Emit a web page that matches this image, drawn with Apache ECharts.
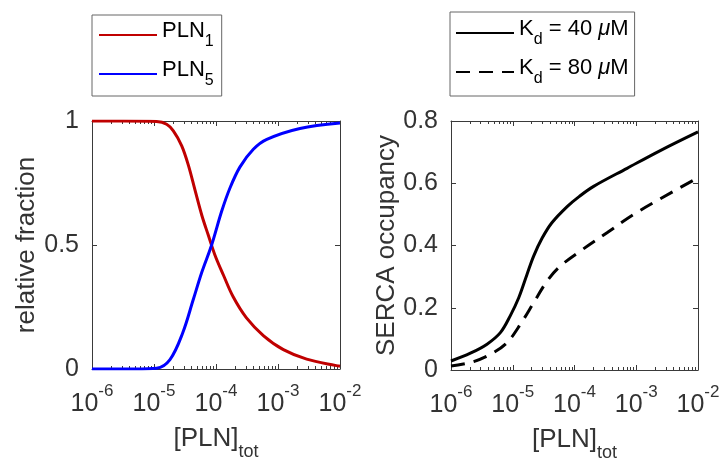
<!DOCTYPE html>
<html>
<head>
<meta charset="utf-8">
<script src="https://cdn.jsdelivr.net/npm/echarts@6/dist/echarts.min.js"></script>
<style>
html,body{margin:0;padding:0;background:#fff;}
#c{width:727px;height:464px;}
</style>
</head>
<body>
<div id="c"></div>
<script>
// ---- data ----
const pln1X = [1e-6, 3.2e-6, 1.1e-5, 1.6e-5, 2.05e-5, 2.8e-5, 3.6e-5, 4.6e-5, 5.9e-5, 7.5e-5, 9.6e-5, 1.31e-4, 1.9e-4, 3.1e-4, 5.8e-4, 1.22e-3, 2.9e-3, 1e-2];
const pln1Y = [1.0, 1.0, 0.998, 0.987, 0.96, 0.9, 0.82, 0.72, 0.62, 0.54, 0.46, 0.38, 0.29, 0.206, 0.135, 0.078, 0.04, 0.011];
const pln5X = [1e-6, 5e-6, 1.1e-5, 1.81e-5, 2.9e-5, 4.3e-5, 5.9e-5, 8.5e-5, 1.23e-4, 1.68e-4, 2.44e-4, 4e-4, 6.6e-4, 2.26e-3, 1e-2];
const pln5Y = [0, 0, 0.003, 0.038, 0.145, 0.28, 0.39, 0.5, 0.635, 0.73, 0.815, 0.886, 0.926, 0.97, 0.992];
const kd40X = [1e-6, 2.06e-6, 3.83e-6, 6.3e-6, 9.1e-6, 1.25e-5, 1.7e-5, 2.18e-5, 2.98e-5, 4.3e-5, 7.6e-5, 1.2e-4, 2.04e-4, 7.1e-4, 2.45e-3, 1e-2];
const kd40Y = [0.029, 0.054, 0.083, 0.12, 0.174, 0.232, 0.307, 0.366, 0.423, 0.473, 0.525, 0.558, 0.59, 0.648, 0.705, 0.765];
const kd80X = [1e-6, 2.33e-6, 4.9e-6, 8.1e-6, 1.33e-5, 2.18e-5, 3.6e-5, 5.9e-5, 1.24e-4, 3.36e-4, 9.1e-4, 2.45e-3, 1e-2];
const kd80Y = [0.013, 0.027, 0.056, 0.088, 0.147, 0.216, 0.286, 0.334, 0.382, 0.441, 0.5, 0.55, 0.618];
const xMin = 1e-6, xMax = 1e-2;
const minorDecades = [1e-6, 1e-5, 1e-4, 1e-3];
const minorMult = [2, 3, 4, 5, 6, 7, 8, 9];

const zip = (xs, ys) => xs.map((x, i) => [x, ys[i]]);
const minorVals = [];
minorDecades.forEach(d => minorMult.forEach(m => minorVals.push([d * m, 0])));

const FONT = '"Liberation Sans", Arial, Helvetica, sans-serif';
const TXT = '#333333';
const AX = '#3a3a3a';

const tickLabelRich = {
  b: {fontSize: 25, fontFamily: FONT, color: TXT, lineHeight: 34, verticalAlign: 'bottom'},
  sup: {fontSize: 17, fontFamily: FONT, color: TXT, lineHeight: 10, verticalAlign: 'top'}
};
const nameRich = {
  b: {fontSize: 26, fontFamily: FONT, color: TXT, lineHeight: 35, verticalAlign: 'top'},
  sub: {fontSize: 18, fontFamily: FONT, color: TXT, lineHeight: 10, verticalAlign: 'bottom'}
};

function logX(gridIndex, bottom) {
  return {
    type: 'log', logBase: 10, gridIndex: gridIndex, min: xMin, max: xMax, splitNumber: 4,
    position: bottom ? 'bottom' : 'top',
    axisLine: {show: true, onZero: false, lineStyle: {color: AX, width: 1}},
    axisTick: {show: true, inside: true, length: 5, lineStyle: {color: AX}},
    splitLine: {show: false},
    axisLabel: bottom ? {
      show: true, margin: 14,
      formatter: v => '{b|10}{sup|' + Math.round(Math.log10(v)) + '}',
      rich: tickLabelRich
    } : {show: false},
    name: bottom ? '{b|[PLN]}{sub|tot}' : '',
    nameLocation: 'middle', nameGap: 57,
    nameTextStyle: {rich: nameRich}
  };
}
function linY(gridIndex, left, max, interval, name, gap) {
  return {
    type: 'value', gridIndex: gridIndex, min: 0, max: max, interval: interval,
    position: left ? 'left' : 'right',
    axisLine: {show: true, onZero: false, lineStyle: {color: AX, width: 1}},
    axisTick: {show: true, inside: true, length: 5, lineStyle: {color: AX}},
    splitLine: {show: false},
    axisLabel: left ? {show: true, margin: 13, fontSize: 25, fontFamily: FONT, color: TXT} : {show: false},
    name: left ? name : '',
    nameLocation: 'middle', nameGap: gap,
    nameTextStyle: {fontSize: 26, fontFamily: FONT, color: TXT}
  };
}

function minorRender(params, api) {
  const x = Math.round(api.coord([api.value(0), 0])[0]) + 0.5;
  const cs = params.coordSys;
  const st = {stroke: AX, lineWidth: 1};
  return {type: 'group', children: [
    {type: 'line', shape: {x1: x, y1: cs.y + cs.height, x2: x, y2: cs.y + cs.height - 3}, style: st},
    {type: 'line', shape: {x1: x, y1: cs.y, x2: x, y2: cs.y + 3}, style: st}
  ]};
}

const legendText = {fontSize: 22, fontFamily: FONT, color: '#000',
  rich: {
    b: {fontSize: 22, fontFamily: FONT, color: '#000', lineHeight: 30, verticalAlign: 'top'},
    s: {fontSize: 16, fontFamily: FONT, color: '#000', lineHeight: 10, verticalAlign: 'bottom'},
    mu: {fontSize: 22, fontFamily: FONT, color: '#000', fontStyle: 'italic', lineHeight: 30, verticalAlign: 'top'}
  }};

const option = {
  animation: false,
  backgroundColor: '#ffffff',
  grid: [
    {left: 92, top: 121, width: 248, height: 248, outerBoundsMode: 'none', containLabel: false},
    {left: 451, top: 121, width: 247, height: 249, outerBoundsMode: 'none', containLabel: false}
  ],
  xAxis: [logX(0, true), logX(0, false), logX(1, true), logX(1, false)],
  yAxis: [
    linY(0, true, 1, 0.5, 'relative fraction', 52),
    linY(0, false, 1, 0.5, '', 0),
    linY(1, true, 0.8, 0.2, 'SERCA occupancy', 50),
    linY(1, false, 0.8, 0.2, '', 0)
  ],
  legend: [
    {
      data: ['PLN1', 'PLN5'], orient: 'vertical', left: 92, top: 15,
      backgroundColor: '#fff', borderColor: '#666', borderWidth: 1,
      padding: [5, 8, 7, 6], itemGap: 9, itemWidth: 58, itemHeight: 14,
      itemStyle: {opacity: 0},
      formatter: n => '{b|PLN}{s|' + n.slice(3) + '}',
      textStyle: legendText
    },
    {
      data: ['Kd40', 'Kd80'], orient: 'vertical', left: 450, top: 12,
      backgroundColor: '#fff', borderColor: '#666', borderWidth: 1,
      padding: [6, 6, 9, 5], itemGap: 9, itemWidth: 58, itemHeight: 14,
      itemStyle: {opacity: 0},
      formatter: n => '{b|K}{s|d}{b| = ' + n.slice(2) + ' }{mu|μ}{b|M}',
      textStyle: legendText
    }
  ],
  series: [
    {name: 'PLN1', type: 'line', xAxisIndex: 0, yAxisIndex: 0, data: zip(pln1X, pln1Y), smooth: 0.35,
      symbol: 'none', lineStyle: {color: '#c00000', width: 3}, itemStyle: {color: '#c00000'}, z: 5},
    {name: 'PLN5', type: 'line', xAxisIndex: 0, yAxisIndex: 0, data: zip(pln5X, pln5Y), smooth: 0.35,
      symbol: 'none', lineStyle: {color: '#0000ff', width: 3}, itemStyle: {color: '#0000ff'}, z: 5},
    {name: 'Kd40', type: 'line', xAxisIndex: 2, yAxisIndex: 2, data: zip(kd40X, kd40Y), smooth: 0.35,
      symbol: 'none', lineStyle: {color: '#000', width: 3}, itemStyle: {color: '#000'}, z: 5},
    {name: 'Kd80', type: 'line', xAxisIndex: 2, yAxisIndex: 2, data: zip(kd80X, kd80Y), smooth: 0.35,
      symbol: 'none', lineStyle: {color: '#000', width: 3, type: [14, 9]}, itemStyle: {color: '#000'}, z: 5},
    {name: 'minorL', type: 'custom', xAxisIndex: 0, yAxisIndex: 0, data: minorVals, renderItem: minorRender, silent: true, z: 1},
    {name: 'minorR', type: 'custom', xAxisIndex: 2, yAxisIndex: 2, data: minorVals, renderItem: minorRender, silent: true, z: 1}
  ]
};
const chart = echarts.init(document.getElementById('c'), null, {renderer: 'canvas'});
chart.setOption(option);
</script>
</body>
</html>
